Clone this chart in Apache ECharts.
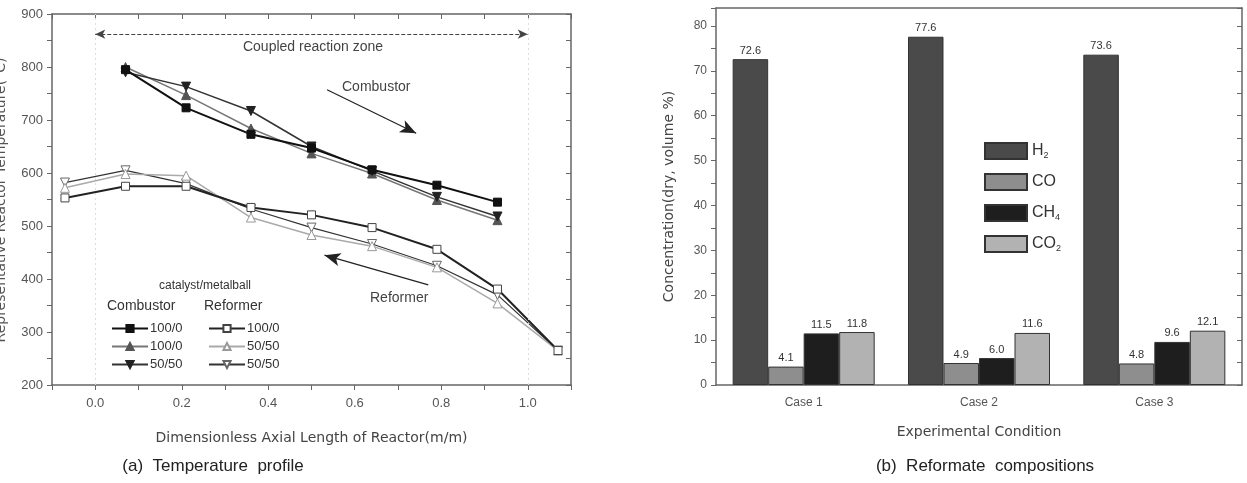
<!DOCTYPE html>
<html>
<head>
<meta charset="utf-8">
<script src="https://cdn.jsdelivr.net/npm/echarts@6/dist/echarts.min.js"></script>
<style>
  html, body { margin: 0; padding: 0; background: #fff; }
  #chart { width: 1247px; height: 483px; }
</style>
</head>
<body>
<div id="chart"></div>
<script>
// (a) temperature profile: axial positions and temperatures (deg C)
const xPos = [-0.07, 0.07, 0.21, 0.36, 0.5, 0.64, 0.79, 0.93, 1.07];
const combSq = [795, 723, 673, 647, 606, 577, 545];   // combustor 100/0
const combTri = [800, 747, 684, 637, 599, 549, 511];  // combustor 100/0
const combInv = [790, 763, 717, 650, 604, 555, 518];  // combustor 50/50
const refSq = [553, 575, 575, 535, 521, 497, 456, 381, 265];  // reformer 100/0
const refTri = [572, 598, 595, 516, 483, 462, 422, 354, 265]; // reformer 50/50
const refInv = [582, 605, 580, 532, 497, 466, 425, 370, 265]; // reformer 50/50
const legendText = { C1: "100/0", C2: "100/0", C3: "50/50", R1: "100/0", R2: "50/50", R3: "50/50" };

// (b) reformate compositions (dry, volume %)
const cases = ["Case 1", "Case 2", "Case 3"];
const h2 = [72.6, 77.6, 73.6];
const co = [4.1, 4.9, 4.8];
const ch4 = [11.5, 6.0, 9.6];
const co2 = [11.8, 11.6, 12.1];

const FONT = "Liberation Sans";
const axisCol = "#666";
const axisLine = { show: true, onZero: false, lineStyle: { color: axisCol, width: 1.5 } };

const comb = (vals) => vals.map((v, i) => [xPos[i + 1], v]);
const refm = (vals) => vals.map((v, i) => [xPos[i], v]);

const chart = echarts.init(document.getElementById("chart"));

function lineSeries(name, data, o) {
  return {
    name: name,
    type: "line",
    xAxisIndex: 0,
    yAxisIndex: 0,
    data: data,
    symbol: o.symbol,
    symbolSize: o.size,
    symbolRotate: o.rotate || 0,
    showAllSymbol: true,
    lineStyle: { color: o.line, width: o.width },
    itemStyle: { color: o.fill, borderColor: o.border, borderWidth: 1 },
    z: o.z || 3,
  };
}

function barSeries(name, data, color) {
  return {
    name: name,
    type: "bar",
    xAxisIndex: 2,
    yAxisIndex: 2,
    data: data,
    barGap: "0%",
    barCategoryGap: "19%",
    itemStyle: { color: color, borderColor: "#333", borderWidth: 1 },
    label: {
      show: true,
      position: "top",
      distance: 3,
      fontFamily: FONT,
      fontSize: 11,
      color: "#333",
      formatter: (p) => p.value.toFixed(1),
    },
  };
}

const sub = { fontSize: 9, fontFamily: FONT, color: "#333", padding: [9, 0, 0, 0] };

const option = {
  animation: false,
  grid: [
    { left: 52, top: 14, width: 519, height: 371 },
    { left: 716, top: 8, width: 526, height: 377 },
  ],
  xAxis: [
    {
      gridIndex: 0, type: "value", min: -0.1, max: 1.1, interval: 0.1,
      axisLine: axisLine,
      axisTick: { length: 5, lineStyle: { color: axisCol } },
      splitLine: { show: false },
      axisLabel: {
        fontFamily: FONT, fontSize: 13, color: "#555", margin: 12,
        formatter: (v) => {
          const k = Math.round(v * 10);
          return k % 2 === 0 && k >= 0 && k <= 10 ? (k / 10).toFixed(1) : "";
        },
      },
      name: "Dimensionless Axial Length of Reactor(m/m)",
      nameLocation: "middle", nameGap: 46,
      nameTextStyle: { fontFamily: "DejaVu Sans", fontSize: 14, color: "#444" },
    },
    {
      gridIndex: 0, type: "value", position: "top", min: -0.1, max: 1.1, interval: 0.1,
      axisLine: axisLine,
      axisTick: { inside: true, length: 5, lineStyle: { color: axisCol } },
      axisLabel: { show: false }, splitLine: { show: false },
    },
    {
      gridIndex: 1, type: "category", data: cases,
      axisLine: axisLine,
      axisTick: { alignWithLabel: true, length: 5, lineStyle: { color: axisCol } },
      axisLabel: { fontFamily: FONT, fontSize: 12, color: "#555", margin: 12 },
      name: "Experimental Condition",
      nameLocation: "middle", nameGap: 40,
      nameTextStyle: { fontFamily: "DejaVu Sans", fontSize: 14, color: "#444" },
    },
    {
      gridIndex: 1, type: "category", data: cases, position: "top",
      axisLine: axisLine,
      axisTick: { inside: true, length: 4, lineStyle: { color: axisCol } },
      axisLabel: { show: false },
    },
  ],
  yAxis: [
    {
      gridIndex: 0, type: "value", min: 200, max: 900, interval: 50,
      axisLine: axisLine,
      axisTick: { show: true, length: 5, lineStyle: { color: axisCol } },
      splitLine: { show: false },
      axisLabel: {
        fontFamily: FONT, fontSize: 13, color: "#555", margin: 9,
        formatter: (v) => (v % 100 === 0 ? String(v) : ""),
      },
    },
    {
      gridIndex: 0, type: "value", position: "right", min: 200, max: 900, interval: 50,
      axisLine: axisLine,
      axisTick: { show: true, inside: true, length: 5, lineStyle: { color: axisCol } },
      axisLabel: { show: false }, splitLine: { show: false },
    },
    {
      gridIndex: 1, type: "value", min: 0, max: 84, interval: 5,
      axisLine: axisLine,
      axisTick: { show: true, length: 5, lineStyle: { color: axisCol } },
      splitLine: { show: false },
      axisLabel: {
        fontFamily: FONT, fontSize: 12, color: "#555", margin: 9,
        formatter: (v) => (v % 10 === 0 ? String(v) : ""),
      },
      name: "Concentration(dry, volume %)",
      nameLocation: "middle", nameGap: 40, nameRotate: 90,
      nameTextStyle: { fontFamily: "DejaVu Sans", fontSize: 14, color: "#444" },
    },
    {
      gridIndex: 1, type: "value", position: "right", min: 0, max: 84, interval: 5,
      axisLine: axisLine,
      axisTick: { show: true, inside: true, length: 5, lineStyle: { color: axisCol } },
      axisLabel: { show: false }, splitLine: { show: false },
    },
  ],
  legend: [
    {
      data: ["C1", "C2", "C3"], orient: "vertical", left: 106, top: 317,
      itemWidth: 36, itemHeight: 9, itemGap: 5,
      textStyle: { fontFamily: FONT, fontSize: 13, color: "#333", padding: [0, 0, 0, -3] },
      formatter: (n) => legendText[n],
      selectedMode: false,
    },
    {
      data: ["R1", "R2", "R3"], orient: "vertical", left: 203, top: 317,
      itemWidth: 36, itemHeight: 9, itemGap: 5,
      textStyle: { fontFamily: FONT, fontSize: 13, color: "#333", padding: [0, 0, 0, -3] },
      formatter: (n) => legendText[n],
      selectedMode: false,
    },
    {
      data: ["H2", "CO", "CH4", "CO2"], orient: "vertical", left: 979, top: 137,
      icon: "rect",
      itemWidth: 42, itemHeight: 16, itemGap: 13,
      textStyle: { fontFamily: FONT, fontSize: 16, color: "#333", rich: { s: sub } },
      formatter: (n) => ({ H2: "H{s|2}", CO: "CO", CH4: "CH{s|4}", CO2: "CO{s|2}" }[n]),
      selectedMode: false,
    },
  ],
  graphic: [
    { type: "text", x: 313, y: 47, style: { text: "Coupled reaction zone", fontFamily: FONT, fontSize: 14, fill: "#444", align: "center", verticalAlign: "middle" } },
    { type: "text", x: 342, y: 87, style: { text: "Combustor", fontFamily: FONT, fontSize: 14, fill: "#444", align: "left", verticalAlign: "middle" } },
    { type: "text", x: 370, y: 298, style: { text: "Reformer", fontFamily: FONT, fontSize: 14, fill: "#444", align: "left", verticalAlign: "middle" } },
    { type: "text", x: 205, y: 286, style: { text: "catalyst/metalball", fontFamily: FONT, fontSize: 12, fill: "#333", align: "center", verticalAlign: "middle" } },
    { type: "text", x: 107, y: 306, style: { text: "Combustor", fontFamily: FONT, fontSize: 14, fill: "#333", align: "left", verticalAlign: "middle" } },
    { type: "text", x: 204, y: 306, style: { text: "Reformer", fontFamily: FONT, fontSize: 14, fill: "#333", align: "left", verticalAlign: "middle" } },
    { type: "text", x: 213, y: 466, style: { text: "(a)  Temperature  profile", fontFamily: FONT, fontSize: 17, fill: "#222", align: "center", verticalAlign: "middle" } },
    { type: "text", x: 985, y: 466, style: { text: "(b)  Reformate  compositions", fontFamily: FONT, fontSize: 17, fill: "#222", align: "center", verticalAlign: "middle" } },
    { type: "text", x: 1, y: 200, rotation: Math.PI / 2, style: { text: "Representative Reactor Temperature(°C)", fontFamily: "DejaVu Sans", fontSize: 14, fill: "#555", align: "center", verticalAlign: "middle" } },
  ],
  series: [
    Object.assign(lineSeries("R3", refm(refInv), { symbol: "triangle", rotate: 180, size: 9, line: "#333", width: 1.2, fill: "#fff", border: "#666" }), {
      markLine: {
        silent: true, animation: false, label: { show: false },
        data: [
          [
            { coord: [0, 200], symbol: "none", lineStyle: { color: "#dddddd", type: [2, 3], width: 1 } },
            { coord: [0, 900], symbol: "none" },
          ],
          [
            { coord: [1.0, 200], symbol: "none", lineStyle: { color: "#dddddd", type: [2, 3], width: 1 } },
            { coord: [1.0, 900], symbol: "none" },
          ],
          [
            { coord: [0.0, 862], symbol: "arrow", symbolSize: [7, 10], lineStyle: { color: "#444", type: "dashed", width: 1 } },
            { coord: [1.0, 862], symbol: "arrow", symbolSize: [7, 10] },
          ],
          [
            { coord: [0.536, 757], symbol: "none", lineStyle: { color: "#222", type: "solid", width: 1.2 } },
            { coord: [0.742, 675], symbol: "arrow", symbolSize: [10, 16] },
          ],
          [
            { coord: [0.77, 389], symbol: "none", lineStyle: { color: "#222", type: "solid", width: 1.2 } },
            { coord: [0.53, 445], symbol: "arrow", symbolSize: [10, 16] },
          ],
        ],
      },
    }),
    lineSeries("R2", refm(refTri), { symbol: "triangle", size: 9, line: "#aaa", width: 1.5, fill: "#fff", border: "#999" }),
    lineSeries("R1", refm(refSq), { symbol: "rect", size: 8, line: "#222", width: 2, fill: "#fff", border: "#444" }),
    lineSeries("C2", comb(combTri), { symbol: "triangle", size: 9, line: "#777", width: 1.5, fill: "#555", border: "#555" }),
    lineSeries("C3", comb(combInv), { symbol: "triangle", rotate: 180, size: 9, line: "#333", width: 1.5, fill: "#222", border: "#222" }),
    lineSeries("C1", comb(combSq), { symbol: "rect", size: 8, line: "#111", width: 2, fill: "#111", border: "#111" }),
    barSeries("H2", h2, "#4a4a4a"),
    barSeries("CO", co, "#8e8e8e"),
    barSeries("CH4", ch4, "#1e1e1e"),
    barSeries("CO2", co2, "#b2b2b2"),
  ],
};

chart.setOption(option);
</script>
</body>
</html>
